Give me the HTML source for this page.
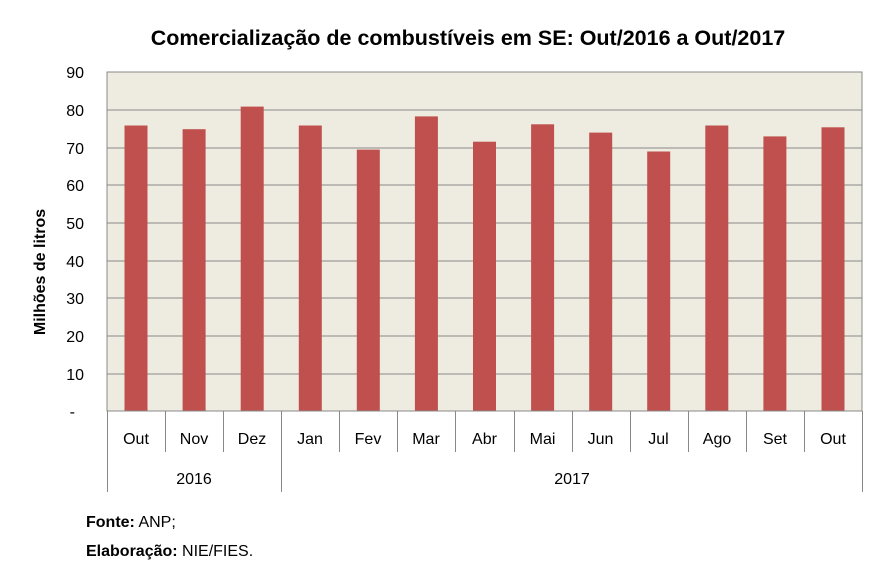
<!DOCTYPE html>
<html><head><meta charset="utf-8"><style>body{margin:0;background:#fff}svg{display:block;font-family:"Liberation Sans",sans-serif}</style></head><body>
<svg width="885" height="586" xmlns="http://www.w3.org/2000/svg">
<text x="468" y="45" text-anchor="middle" font-size="21.5" font-weight="bold" fill="#000">Comercialização de combustíveis em SE: Out/2016 a Out/2017</text>
<rect x="107" y="72" width="755" height="339" fill="#EEECE1" stroke="#888" stroke-width="1"/>
<g stroke="#888" stroke-width="1">
<line x1="107" x2="862" y1="110" y2="110"/><line x1="107" x2="862" y1="148" y2="148"/><line x1="107" x2="862" y1="185" y2="185"/><line x1="107" x2="862" y1="223" y2="223"/><line x1="107" x2="862" y1="261" y2="261"/><line x1="107" x2="862" y1="298" y2="298"/><line x1="107" x2="862" y1="336" y2="336"/><line x1="107" x2="862" y1="374" y2="374"/>
</g>
<g font-size="16" text-anchor="end" fill="#000">
<text x="84" y="78">90</text><text x="84" y="116">80</text><text x="84" y="154">70</text><text x="84" y="191">60</text><text x="84" y="229">50</text><text x="84" y="267">40</text><text x="84" y="304">30</text><text x="84" y="342">20</text><text x="84" y="380">10</text><text x="75" y="417">-</text>
</g>
<text transform="translate(45,272) rotate(-90)" text-anchor="middle" font-size="16" font-weight="bold">Milhões de litros</text>
<g fill="#C0504D">
<rect x="124.5" y="125.5" width="23" height="285.5"/>
<rect x="182.6" y="129.2" width="23" height="281.8"/>
<rect x="240.7" y="106.6" width="23" height="304.4"/>
<rect x="298.8" y="125.5" width="23" height="285.5"/>
<rect x="356.8" y="149.6" width="23" height="261.4"/>
<rect x="414.9" y="116.4" width="23" height="294.6"/>
<rect x="473" y="141.7" width="23" height="269.3"/>
<rect x="531.1" y="124.3" width="23" height="286.7"/>
<rect x="589.2" y="132.6" width="23" height="278.4"/>
<rect x="647.2" y="151.5" width="23" height="259.5"/>
<rect x="705.3" y="125.5" width="23" height="285.5"/>
<rect x="763.4" y="136.4" width="23" height="274.6"/>
<rect x="821.5" y="127.3" width="23" height="283.7"/>
</g>
<g stroke="#888" stroke-width="1">
<line x1="107.5" x2="107.5" y1="411" y2="492"/>
<line x1="165.5" x2="165.5" y1="411" y2="452"/>
<line x1="223.5" x2="223.5" y1="411" y2="452"/>
<line x1="281.5" x2="281.5" y1="411" y2="492"/>
<line x1="339.5" x2="339.5" y1="411" y2="452"/>
<line x1="397.5" x2="397.5" y1="411" y2="452"/>
<line x1="455.5" x2="455.5" y1="411" y2="452"/>
<line x1="514.5" x2="514.5" y1="411" y2="452"/>
<line x1="572.5" x2="572.5" y1="411" y2="452"/>
<line x1="630.5" x2="630.5" y1="411" y2="452"/>
<line x1="688.5" x2="688.5" y1="411" y2="452"/>
<line x1="746.5" x2="746.5" y1="411" y2="452"/>
<line x1="804.5" x2="804.5" y1="411" y2="452"/>
<line x1="862.5" x2="862.5" y1="411" y2="492"/>
<line x1="107" x2="862" y1="411" y2="411"/>
</g>
<g font-size="16" text-anchor="middle">
<text x="136" y="444">Out</text><text x="194" y="444">Nov</text><text x="252" y="444">Dez</text><text x="310" y="444">Jan</text><text x="368" y="444">Fev</text><text x="426" y="444">Mar</text><text x="484.5" y="444">Abr</text><text x="542.5" y="444">Mai</text><text x="600.5" y="444">Jun</text><text x="658.5" y="444">Jul</text><text x="717" y="444">Ago</text><text x="775" y="444">Set</text><text x="833" y="444">Out</text>
</g>
<text x="194" y="484" text-anchor="middle" font-size="16">2016</text>
<text x="572" y="484" text-anchor="middle" font-size="16">2017</text>
<text x="86" y="527" font-size="16"><tspan font-weight="bold">Fonte:</tspan> ANP;</text>
<text x="86" y="556" font-size="16"><tspan font-weight="bold">Elaboração:</tspan> NIE/FIES.</text>
</svg>
</body></html>
